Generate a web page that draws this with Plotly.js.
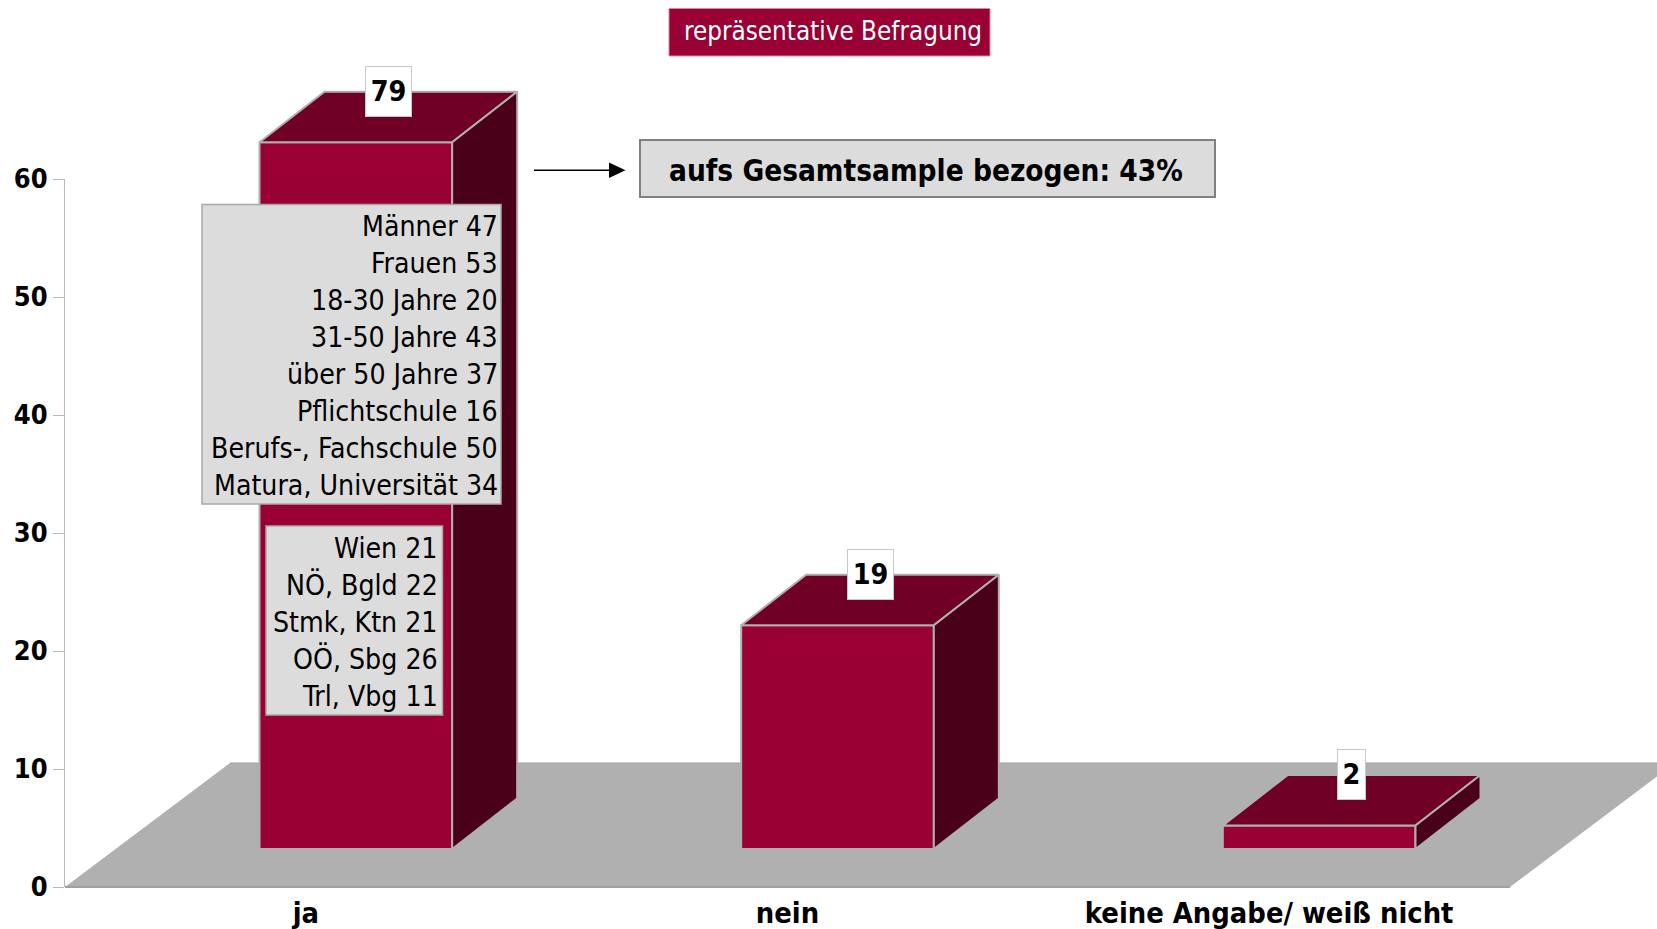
<!DOCTYPE html>
<html><head><meta charset="utf-8">
<script src="https://cdn.plot.ly/plotly-3.0.1.min.js"></script>
<style>html,body{margin:0;padding:0;background:#fff;overflow:hidden}</style>
</head><body><div id="chart" style="width:1657px;height:929px"></div>
<script>
const categories = ['ja', 'nein', 'keine Angabe/ weiß nicht'];
const values = [79, 19, 2];
const axisCap = 60;
const yTicks = [0, 10, 20, 30, 40, 50, 60];
const demographicLabels = ['Männer', 'Frauen', '18-30 Jahre', '31-50 Jahre', 'über 50 Jahre', 'Pflichtschule', 'Berufs-, Fachschule', 'Matura, Universität'];
const demographicValues = [47, 53, 20, 43, 37, 16, 50, 34];
const regionLabels = ['Wien', 'NÖ, Bgld', 'Stmk, Ktn', 'OÖ, Sbg', 'Trl, Vbg'];
const regionValues = [21, 22, 21, 26, 11];
const titleText = 'repräsentative Befragung';
const noteText = 'aufs Gesamtsample bezogen: 43%';

const W = 1657, H = 929;
const REG = '"DejaVu Sans Condensed","DejaVu Sans",sans-serif';
const BOLD = '"DejaVu Sans Condensed","DejaVu Sans",sans-serif';
const px = v => v / W, py = v => 1 - v / H;
const EDGE = '#b0b0b0';

// visible axis frame
const floorL = 65, floorR = 1510, axisBottom = 887, axisTop = 179, floorBack = 763;
// bar plane (front of the 3D bars)
const shiftX = 50, barBase = 849, unit = 11.78, planeTop = 40;
const catPx = (floorR - floorL) / 3;
const depthX = 65 / catPx, depthY = 50.5 / unit, barW = 0.4;

const shown = values.map(v => Math.min(v, axisCap));
const idx = values.map((_, i) => i);

const traces = [{
  type: 'bar', x: idx, y: shown, width: barW, xaxis: 'x2', yaxis: 'y2',
  marker: {color: '#990033', line: {color: EDGE, width: 2}},
  hoverinfo: 'skip', showlegend: false
}];
idx.forEach(i => {
  const l = i - barW / 2, r = i + barW / 2, t = shown[i];
  traces.push({
    type: 'scatter', mode: 'lines', fill: 'toself', fillcolor: '#700025',
    x: [l, l + depthX, r + depthX, r, l], y: [t, t + depthY, t + depthY, t, t],
    xaxis: 'x2', yaxis: 'y2', line: {color: EDGE, width: 2}, hoverinfo: 'skip', showlegend: false
  });
  traces.push({
    type: 'scatter', mode: 'lines', fill: 'toself', fillcolor: '#4b0019',
    x: [r, r + depthX, r + depthX, r, r], y: [0, depthY, t + depthY, t, 0],
    xaxis: 'x2', yaxis: 'y2', line: {color: EDGE, width: 2}, hoverinfo: 'skip', showlegend: false
  });
});
// carries the labelled front axes
traces.push({type: 'scatter', mode: 'none', x: idx, y: idx.map(() => 0), xaxis: 'x', yaxis: 'y', hoverinfo: 'skip', showlegend: false});

function box(x0, y0, x1, y1, fill, line, width, layer) {
  return {type: 'rect', xref: 'paper', yref: 'paper', x0: px(x0), x1: px(x1), y0: py(y1), y1: py(y0),
          fillcolor: fill, line: {color: line, width: width}, layer: layer || 'above'};
}
const shapes = [
  // floor
  {type: 'path', xref: 'paper', yref: 'paper', layer: 'below', fillcolor: '#b0b0b0', line: {width: 0},
   path: `M ${px(floorL)} ${py(axisBottom)} L ${px(230)} ${py(floorBack)} L ${px(1675)} ${py(floorBack)} L ${px(floorR)} ${py(axisBottom)} Z`},
  {type: 'line', xref: 'paper', yref: 'paper', layer: 'below', x0: px(floorL), x1: px(floorR), y0: py(887), y1: py(887), line: {color: '#a0a0a0', width: 2}},
  {type: 'line', xref: 'paper', yref: 'paper', layer: 'below', x0: px(230), x1: px(1657), y0: py(floorBack), y1: py(floorBack), line: {color: '#a0a0a0', width: 1}},
  box(202, 204.5, 501, 504, '#dcdcdc', '#a8a8a8', 1.5),
  box(266, 526, 442.5, 715, '#dcdcdc', '#a8a8a8', 1.5),
  box(669, 8.5, 990, 56, '#990033', '#d48aa3', 1),
  box(640, 140, 1215, 197, '#dcdcdc', '#808080', 2),
  {type: 'line', xref: 'paper', yref: 'paper', x0: px(534), x1: px(612), y0: py(170.3), y1: py(170.3), line: {color: '#000', width: 1.5}},
  {type: 'path', xref: 'paper', yref: 'paper', fillcolor: '#000', line: {width: 0},
   path: `M ${px(609)} ${py(162.5)} L ${px(625.5)} ${py(170.3)} L ${px(609)} ${py(178)} Z`}
];

const annotations = [];
function lines(labels, vals, right, firstY, step) {
  labels.forEach((s, i) => annotations.push({
    xref: 'paper', yref: 'paper', x: px(right), y: py(firstY + i * step), xanchor: 'right', yanchor: 'middle',
    showarrow: false, text: s + ' ' + vals[i], font: {family: REG, size: 28.2, color: '#000'}
  }));
}
lines(demographicLabels, demographicValues, 500, 226.8, 36.9);
lines(regionLabels, regionValues, 440, 548.1, 37);
annotations.push({xref: 'paper', yref: 'paper', x: px(832.5), y: py(31), xanchor: 'center', yanchor: 'middle', showarrow: false,
  text: titleText, font: {family: REG, size: 25.8, color: '#fff'}});
annotations.push({xref: 'paper', yref: 'paper', x: px(926), y: py(170.7), xanchor: 'center', yanchor: 'middle', showarrow: false,
  text: '<b>' + noteText + '</b>', font: {family: BOLD, size: 29.5, color: '#000'}});
idx.forEach(i => annotations.push({
  xref: 'x2', yref: 'y2', x: i + depthX / 2, y: shown[i] + depthY, xanchor: 'center', yanchor: 'middle', showarrow: false,
  text: '<b>' + values[i] + '</b>', font: {family: BOLD, size: 28.5, color: '#000'},
  bgcolor: '#fff', bordercolor: '#c8c8c8', borderwidth: 1, borderpad: 0,
  width: values[i] < 10 ? 27 : 45, height: 49
}));

const layout = {
  width: W, height: H, autosize: false, margin: {l: 0, r: 0, t: 0, b: 0, pad: 0},
  paper_bgcolor: '#fff', plot_bgcolor: 'rgba(0,0,0,0)', showlegend: false, barmode: 'overlay',
  xaxis: {domain: [px(floorL), px(floorR)], range: [-0.5, 2.5], anchor: 'y', tickmode: 'array', tickvals: idx, ticktext: categories,
          ticks: '', showline: false, showgrid: false, zeroline: false, tickangle: 0, ticklabelstandoff: 6,
          tickfont: {family: BOLD, size: 28.8, color: '#000', weight: 700}},
  yaxis: {domain: [py(axisBottom), py(axisTop)], range: [0, axisCap], anchor: 'x', tickmode: 'array', tickvals: yTicks,
          ticks: 'outside', ticklen: 11, tickcolor: '#b8b8b8', tickwidth: 1, showline: true, linecolor: '#b8b8b8', linewidth: 1,
          showgrid: false, zeroline: false, tickfont: {family: BOLD, size: 27, color: '#000', weight: 700}},
  xaxis2: {domain: [px(floorL + shiftX), Math.min(1, px(floorR + shiftX))], range: [-0.5, 2.5], anchor: 'y2', visible: false, fixedrange: true},
  yaxis2: {domain: [py(barBase), py(planeTop)], range: [0, (barBase - planeTop) / unit], anchor: 'x2', visible: false, fixedrange: true},
  shapes, annotations
};
Plotly.newPlot('chart', traces, layout, {displayModeBar: false, staticPlot: true});
</script></body></html>
